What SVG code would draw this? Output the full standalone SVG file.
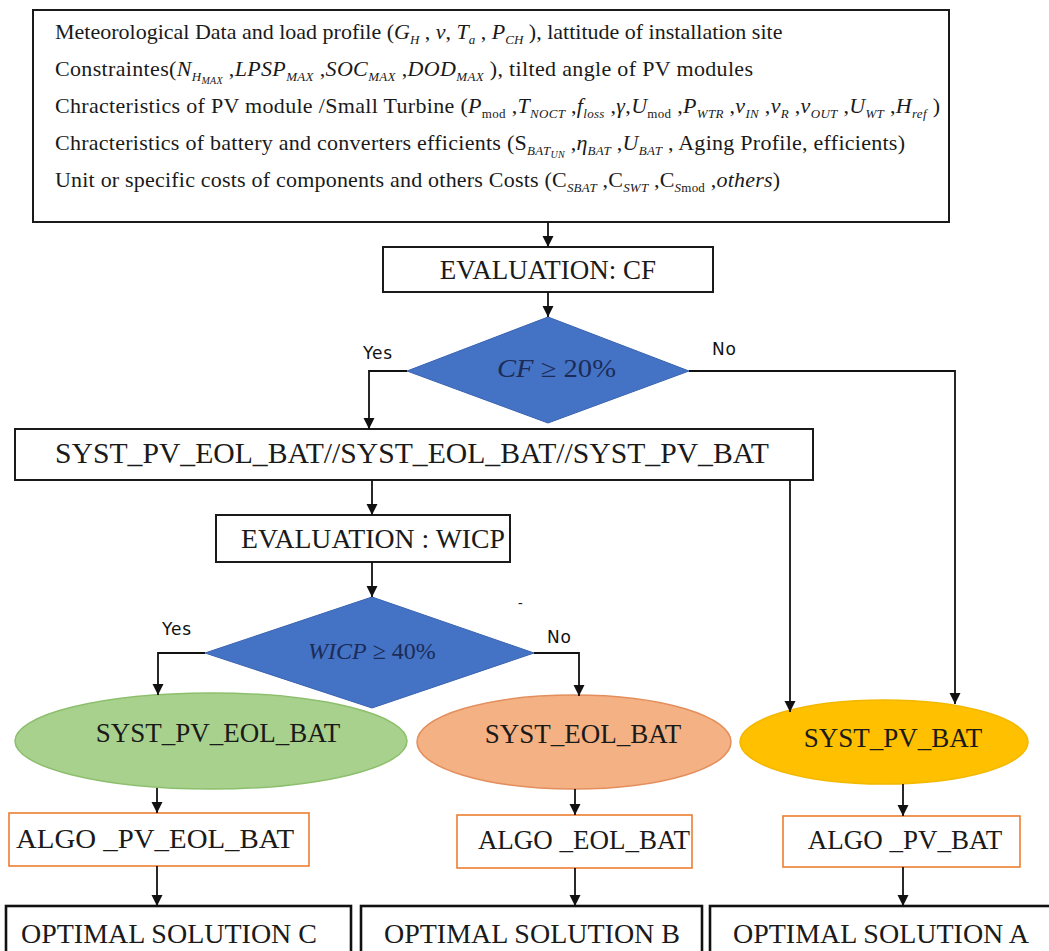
<svg xmlns="http://www.w3.org/2000/svg" width="1049" height="951" viewBox="0 0 1049 951">
<style>
.t{font-family:'Liberation Serif','DejaVu Serif','Times New Roman',Times,serif;fill:#1a1a1a}
.top{font-size:22px}
.i{font-style:italic}
.s{font-size:13px;font-style:italic}
.u{font-size:13px;font-style:normal}
.ss{font-size:10px;font-style:italic}
.box{fill:#fff;stroke:#1a1a1a;stroke-width:2}
.obox{fill:#fff;stroke:#ed7d31;stroke-width:1.6}
.fbox{fill:#fff;stroke:#111;stroke-width:2.6}
.dia{fill:#4472c4;stroke:#3a64b0;stroke-width:1}
.dt{font-family:'Liberation Serif','DejaVu Serif','Times New Roman',Times,serif;fill:#1c2c58}
.yn{font-family:'DejaVu Sans',Verdana,sans-serif;font-size:17px;fill:#111;letter-spacing:0.8px}
.c{fill:none;stroke:#111;stroke-width:1.8}
.lab{font-size:27px;text-anchor:middle}
</style>
<defs>
<marker id="ah" markerUnits="userSpaceOnUse" markerWidth="12" markerHeight="12" refX="11" refY="6" orient="auto">
<path d="M0,0.5 L11,6 L0,11.5 z" fill="#111"/>
</marker>
<clipPath id="wclip"><rect x="280" y="620" width="172" height="60"/></clipPath>
</defs>
<rect width="1049" height="951" fill="#fff"/>

<g id="input">
<rect class="box" x="33" y="10" width="916" height="212"/>
<text class="t top" x="55" y="39">Meteorological Data and load profile (<tspan class="i">G</tspan><tspan class="s" dy="5">H</tspan><tspan dy="-5"> , </tspan><tspan class="i">v</tspan>, <tspan class="i">T</tspan><tspan class="s" dy="5">a</tspan><tspan dy="-5"> , </tspan><tspan class="i">P</tspan><tspan class="s" dy="5">CH</tspan><tspan dy="-5"> ), lattitude of installation site</tspan></text>
<text class="t top" x="55" y="76" textLength="698" lengthAdjust="spacing">Constraintes(<tspan class="i">N</tspan><tspan class="s" dy="5">H</tspan><tspan class="ss" dy="3">MAX</tspan><tspan dy="-8"> ,</tspan><tspan class="i">LPSP</tspan><tspan class="s" dy="5">MAX</tspan><tspan dy="-5"> ,</tspan><tspan class="i">SOC</tspan><tspan class="s" dy="5">MAX</tspan><tspan dy="-5"> ,</tspan><tspan class="i">DOD</tspan><tspan class="s" dy="5">MAX</tspan><tspan dy="-5"> ), tilted angle of PV modules</tspan></text>
<text class="t top" x="55" y="113" textLength="885" lengthAdjust="spacing">Chracteristics of PV module /Small Turbine (<tspan class="i">P</tspan><tspan class="u" dy="5">mod</tspan><tspan dy="-5"> ,</tspan><tspan class="i">T</tspan><tspan class="s" dy="5">NOCT</tspan><tspan dy="-5"> ,</tspan><tspan class="i">f</tspan><tspan class="s" dy="5">loss</tspan><tspan dy="-5"> ,</tspan><tspan class="i">γ</tspan>,<tspan class="i">U</tspan><tspan class="u" dy="5">mod</tspan><tspan dy="-5"> ,</tspan><tspan class="i">P</tspan><tspan class="s" dy="5">WTR</tspan><tspan dy="-5"> ,</tspan><tspan class="i">v</tspan><tspan class="s" dy="5">IN</tspan><tspan dy="-5"> ,</tspan><tspan class="i">v</tspan><tspan class="s" dy="5">R</tspan><tspan dy="-5"> ,</tspan><tspan class="i">v</tspan><tspan class="s" dy="5">OUT</tspan><tspan dy="-5"> ,</tspan><tspan class="i">U</tspan><tspan class="s" dy="5">WT</tspan><tspan dy="-5"> ,</tspan><tspan class="i">H</tspan><tspan class="s" dy="5">ref</tspan><tspan dy="-5"> )</tspan></text>
<text class="t top" x="55" y="150" textLength="850" lengthAdjust="spacing">Chracteristics of battery and converters efficients (S<tspan class="s" dy="5">BAT</tspan><tspan class="ss" dy="3">UN</tspan><tspan dy="-8"> ,</tspan><tspan class="i">η</tspan><tspan class="s" dy="5">BAT</tspan><tspan dy="-5"> ,</tspan><tspan class="i">U</tspan><tspan class="s" dy="5">BAT</tspan><tspan dy="-5"> , Aging Profile, efficients)</tspan></text>
<text class="t top" x="55" y="187" textLength="725" lengthAdjust="spacing">Unit or specific costs of components and others Costs (C<tspan class="s" dy="5">SBAT</tspan><tspan dy="-5"> ,C</tspan><tspan class="s" dy="5">SWT</tspan><tspan dy="-5"> ,C</tspan><tspan class="s" dy="5">S</tspan><tspan class="u">mod</tspan><tspan dy="-5"> ,</tspan><tspan class="i">others</tspan>)</text>
</g>

<g id="eval-cf">
<rect class="box" x="383" y="247" width="330" height="45"/>
<text class="t" x="548" y="279" font-size="27" text-anchor="middle">EVALUATION: CF</text>
</g>

<g id="systems">
<rect class="box" x="15" y="429" width="798" height="51"/>
<text class="t" x="55" y="463" font-size="29" textLength="714" lengthAdjust="spacingAndGlyphs">SYST_PV_EOL_BAT//SYST_EOL_BAT//SYST_PV_BAT</text>
</g>

<g id="eval-wicp">
<rect class="box" x="216" y="515" width="294" height="47"/>
<text class="t" x="241" y="548" font-size="27" textLength="264" lengthAdjust="spacingAndGlyphs">EVALUATION : WICP</text>
</g>

<g id="syst-pv-eol-bat">
<ellipse cx="211" cy="741" rx="196" ry="48" fill="#a9d18e" stroke="#8cbf6c" stroke-width="1.5"/>
<text class="t lab" x="218" y="742">SYST_PV_EOL_BAT</text>
</g>
<g id="syst-eol-bat">
<ellipse cx="574" cy="742" rx="157" ry="47" fill="#f4b183" stroke="#e38e5c" stroke-width="1.5"/>
<text class="t lab" x="583" y="743">SYST_EOL_BAT</text>
</g>
<g id="syst-pv-bat">
<ellipse cx="884" cy="742" rx="144" ry="42" fill="#ffc000" stroke="#f2b800" stroke-width="1.5"/>
<text class="t lab" x="893" y="747">SYST_PV_BAT</text>
</g>

<g id="decision-cf">
<polygon class="dia" points="548,317 689,371 548,423 407,371"/>
<text class="dt" x="497" y="377" font-size="25" textLength="119" lengthAdjust="spacingAndGlyphs"><tspan font-style="italic">CF</tspan> ≥ 20%</text>
</g>

<g id="decision-wicp">
<polygon class="dia" points="372,597 534,653 372,708 205,653"/>
<text class="dt" x="308" y="659" font-size="24" clip-path="url(#wclip)"><tspan font-style="italic">WICP</tspan> ≥ 40%</text>
</g>

<g id="algo-pv-eol-bat">
<rect class="obox" x="9" y="813" width="300" height="53"/>
<text class="t" x="16" y="848" font-size="27" textLength="278" lengthAdjust="spacingAndGlyphs">ALGO _PV_EOL_BAT</text>
</g>
<g id="algo-eol-bat">
<rect class="obox" x="457" y="815" width="235" height="53"/>
<text class="t lab" x="584" y="849">ALGO _EOL_BAT</text>
</g>
<g id="algo-pv-bat">
<rect class="obox" x="783" y="816" width="237" height="51"/>
<text class="t lab" x="905" y="849">ALGO _PV_BAT</text>
</g>

<g id="optimal-c">
<rect class="fbox" x="6" y="906" width="345" height="50"/>
<text class="t" x="169" y="943" font-size="28" text-anchor="middle">OPTIMAL SOLUTION C</text>
</g>
<g id="optimal-b">
<rect class="fbox" x="361" y="906" width="341" height="50"/>
<text class="t" x="532" y="943" font-size="28" text-anchor="middle">OPTIMAL SOLUTION B</text>
</g>
<g id="optimal-a">
<rect class="fbox" x="710" y="906" width="345" height="50"/>
<text class="t" x="881" y="943" font-size="28" text-anchor="middle">OPTIMAL SOLUTION A</text>
</g>

<g id="connectors">
<path class="c" d="M548,222 V247" marker-end="url(#ah)"/>
<path class="c" d="M548,292 V317" marker-end="url(#ah)"/>
<path class="c" d="M407,371 H369 V429" marker-end="url(#ah)"/>
<path class="c" d="M689,371 H955 V704" marker-end="url(#ah)"/>
<path class="c" d="M372,480 V515" marker-end="url(#ah)"/>
<path class="c" d="M790,480 V712" marker-end="url(#ah)"/>
<path class="c" d="M372,562 V597" marker-end="url(#ah)"/>
<path class="c" d="M205,653 H158 V695" marker-end="url(#ah)"/>
<path class="c" d="M534,653 H579 V696" marker-end="url(#ah)"/>
<path class="c" d="M157,788 V813" marker-end="url(#ah)"/>
<path class="c" d="M575,789 V815" marker-end="url(#ah)"/>
<path class="c" d="M903,784 V816" marker-end="url(#ah)"/>
<path class="c" d="M157,866 V906" marker-end="url(#ah)"/>
<path class="c" d="M575,868 V906" marker-end="url(#ah)"/>
<path class="c" d="M903,867 V906" marker-end="url(#ah)"/>
<text class="yn" x="363" y="359">Yes</text>
<text class="yn" x="712" y="355">No</text>
<text class="yn" x="162" y="635">Yes</text>
<text class="yn" x="547" y="643">No</text>
<text class="t" x="518" y="607" font-size="14">-</text>
</g>
</svg>
